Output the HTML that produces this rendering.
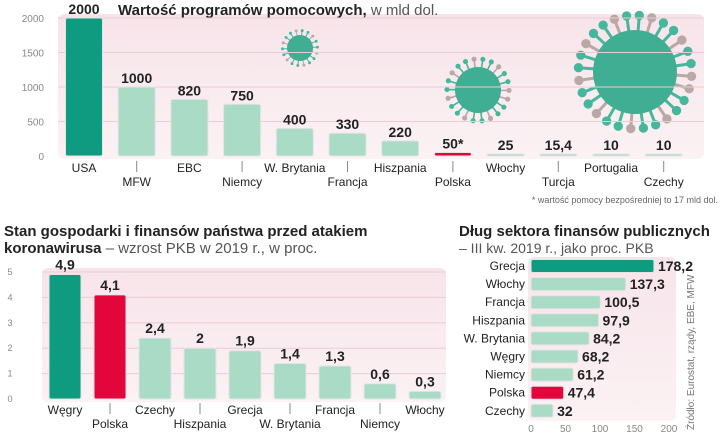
<!DOCTYPE html>
<html><head><meta charset="utf-8">
<style>
body{margin:0;background:#fff;}
svg{display:block;font-family:"Liberation Sans",sans-serif;}
</style></head><body>
<svg id="s" width="720" height="434" viewBox="0 0 720 434">
<defs>
<linearGradient id="bg" x1="0" y1="0" x2="0" y2="1"><stop offset="0" stop-color="#f7e4ea"/><stop offset="1" stop-color="#fbf2f4"/></linearGradient>
</defs>
<rect x="58" y="14" width="646" height="145" rx="6" fill="url(#bg)"/>
<rect x="42" y="268" width="404" height="134" rx="6" fill="url(#bg)"/>
<rect x="528" y="257" width="148" height="164" rx="6" fill="url(#bg)"/>
<text x="118" y="15" font-size="15" font-weight="bold" fill="#222">Wartość programów pomocowych,<tspan font-weight="normal" fill="#555"> w mld dol.</tspan></text>
<text x="718" y="203" font-size="9" fill="#666" text-anchor="end">* wartość pomocy bezpośredniej to 17 mld dol.</text>
<text x="4" y="236" font-size="15" font-weight="bold" fill="#222">Stan gospodarki i finansów państwa przed atakiem</text>
<text x="4" y="253" font-size="15" font-weight="bold" fill="#222">koronawirusa<tspan font-weight="normal" fill="#555"> – wzrost PKB w 2019 r., w proc.</tspan></text>
<text x="459" y="236" font-size="15" font-weight="bold" fill="#222">Dług sektora finansów publicznych</text>
<text x="459" y="253" font-size="14" fill="#555">– III kw. 2019 r., jako proc. PKB</text>
<text transform="translate(694,430) rotate(-90)" font-size="10" fill="#777">Źródło: Eurostat, rządy, EBE, MFW</text>
<g id="viruses"></g>
<g id="g1"></g><g id="g2"></g><g id="g3"></g>
</svg>
<script>
const aidCats=["USA","MFW","EBC","Niemcy","W. Brytania","Francja","Hiszpania","Polska","Włochy","Turcja","Portugalia","Czechy"];
const aidVals=[2000,1000,820,750,400,330,220,50,25,15.4,10,10];
const aidLabels=["2000","1000","820","750","400","330","220","50*","25","15,4","10","10"];
const aidTicks=[0,500,1000,1500,2000];
const gdpCats=["Węgry","Polska","Czechy","Hiszpania","Grecja","W. Brytania","Francja","Niemcy","Włochy"];
const gdpVals=[4.9,4.1,2.4,2,1.9,1.4,1.3,0.6,0.3];
const gdpLabels=["4,9","4,1","2,4","2","1,9","1,4","1,3","0,6","0,3"];
const gdpTicks=[0,1,2,3,4,5];
const debtCats=["Grecja","Włochy","Francja","Hiszpania","W. Brytania","Węgry","Niemcy","Polska","Czechy"];
const debtVals=[178.2,137.3,100.5,97.9,84.2,68.2,61.2,47.4,32];
const debtLabels=["178,2","137,3","100,5","97,9","84,2","68,2","61,2","47,4","32"];
const debtTicks=[0,50,100,150,200];
const NS="http://www.w3.org/2000/svg";
const DG="#0e9b7f",LG="#a9dbc7",RD="#e2063d";
function el(p,t,a,txt){const e=document.createElementNS(NS,t);for(const k in a)e.setAttribute(k,a[k]);if(txt!=null)e.textContent=txt;p.appendChild(e);return e;}
// viruses
const vg=document.getElementById('viruses');
function virus(cx,cy,r,n){
 for(let i=0;i<n;i++){const a=i/n*Math.PI*2+0.3;const c=i%3==0?"#b9a8a6":"#46b79c";
  const x1=cx+Math.cos(a)*r*0.9,y1=cy+Math.sin(a)*r*0.9,x2=cx+Math.cos(a)*r*1.35,y2=cy+Math.sin(a)*r*1.35;
  el(vg,'line',{x1:x1,y1:y1,x2:x2,y2:y2,stroke:c,'stroke-width':Math.max(1,r/14)});
  el(vg,'circle',{cx:x2,cy:y2,r:Math.max(1.2,r/9),fill:c});}
 const c=el(vg,'circle',{cx:cx,cy:cy,r:r,fill:"#3fae93"});
 
 
}
virus(300,48,13,18);virus(478,90,23,22);virus(635,72,42,28);
// top chart
const g1=document.getElementById('g1');
const y1=v=>156-v*138/2000;
aidTicks.forEach(t=>{
 if(t>0)el(g1,'line',{x1:58,x2:704,y1:y1(t),y2:y1(t),stroke:"#e9cdd4","stroke-width":1});
 const tx=el(g1,'text',{x:44,y:y1(t)+4,"font-size":10,fill:"#888","text-anchor":"end"},t);
 
 
});
aidVals.forEach((v,i)=>{
 const cx=84+i*52.7,w=37,top=y1(v);
 const col=i==0?DG:(aidCats[i]=="Polska"?RD:LG);
 const h=Math.max(2,156-top);
 const r=el(g1,'rect',{x:cx-w/2,y:156-h,width:w,height:h,fill:col,rx:2,stroke:"#e4e4e4","stroke-width":1});
 
 
 const t=el(g1,'text',{x:cx,y:156-h-4,"font-size":14,"font-weight":"bold",fill:"#222","text-anchor":"middle"},aidLabels[i]);
 
 
 const odd=i%2==1;
 if(odd)el(g1,'line',{x1:cx,x2:cx,y1:161,y2:172,stroke:"#888"});
 const l=el(g1,'text',{x:cx,y:odd?186:172,"font-size":12,fill:"#222","text-anchor":"middle"},aidCats[i]);
 
 
});
// gdp chart
const g2=document.getElementById('g2');
const y2=v=>399-v*25.4;
gdpTicks.forEach(t=>{
 if(t>0)el(g2,'line',{x1:42,x2:446,y1:y2(t),y2:y2(t),stroke:"#e9cdd4"});
 const tx=el(g2,'text',{x:10,y:y2(t)+3,"font-size":9,fill:"#888","text-anchor":"middle"},t);
 
 
});
gdpVals.forEach((v,i)=>{
 const cx=65+i*45,w=32,h=399-y2(v);
 const col=i==0?DG:(gdpCats[i]=="Polska"?RD:LG);
 const r=el(g2,'rect',{x:cx-w/2,y:399-h,width:w,height:h,fill:col,rx:2,stroke:"#e4e4e4"});
 
 
 const t=el(g2,'text',{x:cx,y:399-h-5,"font-size":14,"font-weight":"bold",fill:"#222","text-anchor":"middle"},gdpLabels[i]);
 
 
 const odd=i%2==1;
 if(odd)el(g2,'line',{x1:cx,x2:cx,y1:403,y2:414,stroke:"#888"});
 const l=el(g2,'text',{x:cx,y:odd?428:414,"font-size":12,fill:"#222","text-anchor":"middle"},gdpCats[i]);
 
 
});
// debt chart
const g3=document.getElementById('g3');
const x3=v=>531+v*0.69;
debtTicks.forEach(t=>{
 const tx=el(g3,'text',{x:x3(t),y:432,"font-size":10,fill:"#888","text-anchor":"middle"},t);
 
 
});
debtVals.forEach((v,i)=>{
 const cy=266+i*18.1,w=x3(v)-531;
 const col=i==0?DG:(debtCats[i]=="Polska"?RD:LG);
 const r=el(g3,'rect',{x:531,y:cy-6.5,width:w,height:13,fill:col,rx:2,stroke:"#e4e4e4"});
 
 
 const t=el(g3,'text',{x:x3(v)+4,y:cy+5,"font-size":14,"font-weight":"bold",fill:"#222"},debtLabels[i]);
 
 
 const l=el(g3,'text',{x:525,y:cy+4,"font-size":12,fill:"#222","text-anchor":"end"},debtCats[i]);
 
 
});
</script>
</body></html>
